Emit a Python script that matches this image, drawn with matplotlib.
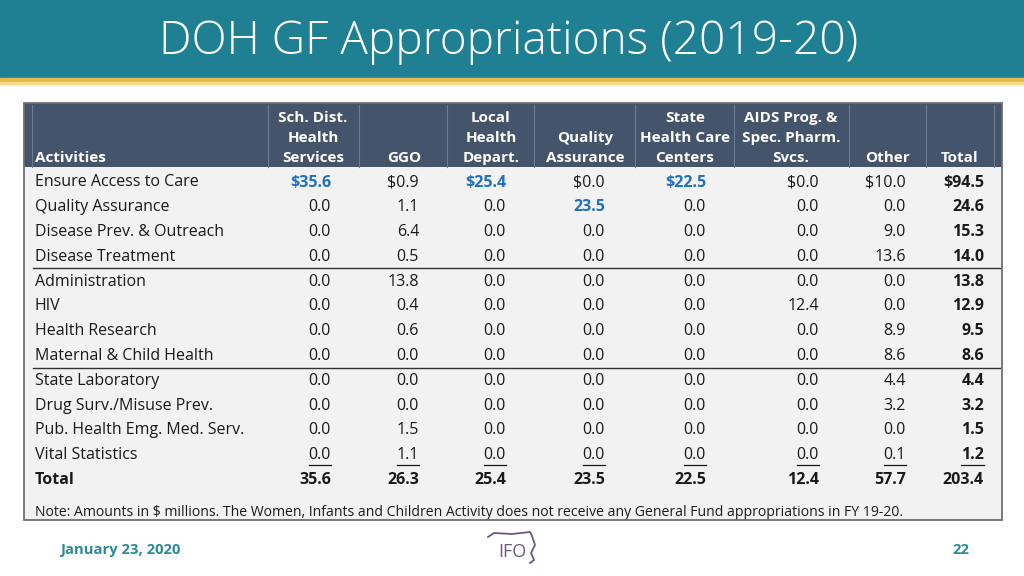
import matplotlib.pyplot as plt
from matplotlib.patches import Rectangle

plt.rcParams['font.family'] = ['Open Sans', 'DejaVu Sans']

activities = ["Ensure Access to Care", "Quality Assurance", "Disease Prev. & Outreach",
              "Disease Treatment", "Administration", "HIV", "Health Research",
              "Maternal & Child Health", "State Laboratory", "Drug Surv./Misuse Prev.",
              "Pub. Health Emg. Med. Serv.", "Vital Statistics"]
headers = [["Sch. Dist.", "Health", "Services"], ["GGO"], ["Local", "Health", "Depart."],
           ["Quality", "Assurance"], ["State", "Health Care", "Centers"],
           ["AIDS Prog. &", "Spec. Pharm.", "Svcs."], ["Other"], ["Total"]]
sch_dist = [35.6, 0.0, 0.0, 0.0, 0.0, 0.0, 0.0, 0.0, 0.0, 0.0, 0.0, 0.0]
ggo = [0.9, 1.1, 6.4, 0.5, 13.8, 0.4, 0.6, 0.0, 0.0, 0.0, 1.5, 1.1]
local_health = [25.4, 0.0, 0.0, 0.0, 0.0, 0.0, 0.0, 0.0, 0.0, 0.0, 0.0, 0.0]
quality = [0.0, 23.5, 0.0, 0.0, 0.0, 0.0, 0.0, 0.0, 0.0, 0.0, 0.0, 0.0]
state_hc = [22.5, 0.0, 0.0, 0.0, 0.0, 0.0, 0.0, 0.0, 0.0, 0.0, 0.0, 0.0]
aids = [0.0, 0.0, 0.0, 0.0, 0.0, 12.4, 0.0, 0.0, 0.0, 0.0, 0.0, 0.0]
other = [10.0, 0.0, 9.0, 13.6, 0.0, 0.0, 8.9, 8.6, 4.4, 3.2, 0.0, 0.1]
total = [94.5, 24.6, 15.3, 14.0, 13.8, 12.9, 9.5, 8.6, 4.4, 3.2, 1.5, 1.2]
col_totals = [35.6, 26.3, 25.4, 23.5, 22.5, 12.4, 57.7, 203.4]
# (row, column) cells shown in blue
highlight = [(0, 0), (0, 2), (1, 3), (0, 4)]

columns = [sch_dist, ggo, local_health, quality, state_hc, aids, other, total]

TEAL = '#1F7F93'
SLATE = '#44546A'
BLUE = '#1F70C1'
BODY_FS = 11.5

fig = plt.figure(figsize=(10.24, 5.76), dpi=100)
ax = fig.add_axes([0, 0, 1, 1])
ax.set_xlim(0, 1024)
ax.set_ylim(576, 0)
ax.axis('off')

# title banner
ax.add_patch(Rectangle((0, 0), 1024, 78, color=TEAL, zorder=1))
ax.add_patch(Rectangle((0, 78), 1024, 6, color='#E9B949', zorder=1))
ax.add_patch(Rectangle((0, 82), 1024, 2, color='#F5DC8C', zorder=1))
ax.text(509, 42, "DOH GF Appropriations (2019-20)", color='white', fontsize=33.2,
        fontweight='light', ha='center', va='center', zorder=2)

# table frame
left, right, top, bottom = 24, 1002, 103, 520
head_bottom = 167
ax.add_patch(Rectangle((left, head_bottom), right - left, bottom - head_bottom,
                       facecolor='#F2F2F2', edgecolor='none', zorder=1))
ax.add_patch(Rectangle((left, top), right - left, head_bottom - top,
                       facecolor=SLATE, edgecolor='none', zorder=1))
ax.add_patch(Rectangle((left, top), right - left, bottom - top,
                       facecolor='none', edgecolor='#6F6F6F', lw=1.3, zorder=4))
for sx in [32, 268, 359, 447, 534, 635, 734, 849, 926, 994]:
    ax.plot([sx, sx], [top + 2, head_bottom], color='#6A7A90', lw=0.8, zorder=2)

# header texts
col_right = [331, 419, 506, 605, 706, 819, 906, 984]
col_center = [313, 404, 491, 585, 685, 791, 887, 960]
line_y = [118, 138, 158]
ax.text(35, line_y[2], "Activities", color='white', fontsize=11, fontweight='bold',
        ha='left', va='center', zorder=3)
for cx, lines in zip(col_center, headers):
    for k, txt in enumerate(lines):
        ax.text(cx, line_y[3 - len(lines) + k], txt, color='white', fontsize=11,
                fontweight='bold', ha='center', va='center', zorder=3)

# body rows
row_h = 24.8
row_y = [182.5 + i * row_h for i in range(len(activities) + 1)]
fig.canvas.draw()
renderer = fig.canvas.get_renderer()
for i, name in enumerate(activities):
    y = row_y[i]
    ax.text(35, y, name, color='#1A1A1A', fontsize=BODY_FS, ha='left', va='center', zorder=3)
    for j, col in enumerate(columns):
        s = ("$%.1f" if i == 0 else "%.1f") % col[i]
        is_hl = (i, j) in highlight
        bold = is_hl or j == len(columns) - 1
        t = ax.text(col_right[j], y, s, color=BLUE if is_hl else '#1A1A1A',
                    fontsize=BODY_FS, fontweight='bold' if bold else 'normal',
                    ha='right', va='center', zorder=3)
        if i == len(activities) - 1:
            w = t.get_window_extent(renderer).width
            ax.plot([col_right[j] - w, col_right[j]], [y + 9.5, y + 9.5],
                    color='#1A1A1A', lw=0.9, zorder=3)

# total row
ty = row_y[-1]
ax.text(35, ty, "Total", color='#1A1A1A', fontsize=BODY_FS, fontweight='bold',
        ha='left', va='center', zorder=3)
for j, v in enumerate(col_totals):
    ax.text(col_right[j], ty, "%.1f" % v, color='#1A1A1A', fontsize=BODY_FS,
            fontweight='bold', ha='right', va='center', zorder=3)

# group separators
for i in [3, 7]:
    yy = (row_y[i] + row_y[i + 1]) / 2 - 1
    ax.plot([33, 1000], [yy, yy], color='#333333', lw=1.0, zorder=3)

ax.text(35, 513, "Note: Amounts in $ millions. The Women, Infants and Children Activity "
        "does not receive any General Fund appropriations in FY 19-20.",
        color='#1A1A1A', fontsize=10.1, ha='left', va='center', zorder=3)

# footer
ax.text(60, 550, "January 23, 2020", color='#2A8A9C', fontsize=10.6, fontweight='bold',
        ha='left', va='center')
ax.text(969, 550, "22", color='#2A8A9C', fontsize=10.6, fontweight='bold',
        ha='right', va='center')
ax.text(512, 552, "IFO", color='#6B5A7E', fontsize=13, ha='center', va='center')
ax.plot([488, 494, 512, 530, 532, 535, 531, 534, 530],
        [537, 533, 534, 532, 536, 545, 553, 560, 563], color='#6B5A7E', lw=1.3)

fig.savefig('out.png', dpi=100)
